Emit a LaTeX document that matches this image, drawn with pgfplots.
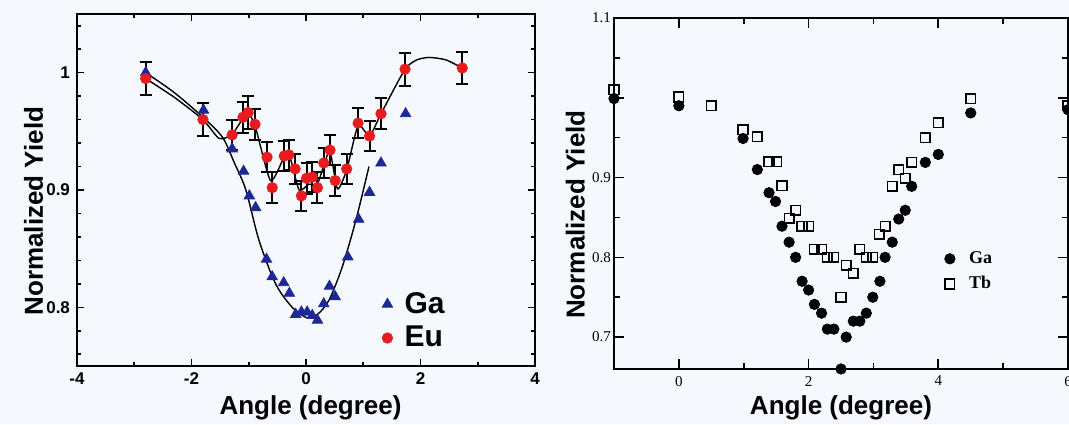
\documentclass[border=0pt]{standalone}
\usepackage{pgfplots}
\pgfplotsset{compat=1.18}
\usepackage{pgfplotstable}
\usepackage{fontspec}
\setmainfont{Liberation Sans}
\newfontfamily\serif{Liberation Serif}
\definecolor{bgcol}{RGB}{245,248,252}
\definecolor{gablue}{RGB}{28,40,150}
\definecolor{eured}{RGB}{232,28,30}

\pgfplotstableread{
x y
-2.80 1.000
-1.79 0.968
-1.29 0.935
-1.09 0.916
-0.99 0.895
-0.88 0.885
-0.69 0.841
-0.59 0.826
-0.39 0.821
-0.29 0.812
-0.18 0.794
-0.08 0.796
0.02 0.796
0.11 0.793
0.20 0.789
0.31 0.803
0.41 0.818
0.51 0.809
0.73 0.843
0.92 0.875
1.11 0.898
1.31 0.923
1.74 0.965
}\gaL

\pgfplotstableread{
x y e
-2.80 0.995 0.014
-1.80 0.960 0.014
-1.29 0.947 0.013
-1.10 0.962 0.013
-1.01 0.966 0.014
-0.89 0.956 0.013
-0.68 0.928 0.013
-0.59 0.902 0.013
-0.38 0.929 0.013
-0.30 0.930 0.013
-0.19 0.918 0.013
-0.08 0.895 0.013
0.01 0.910 0.013
0.11 0.911 0.013
0.20 0.902 0.013
0.31 0.923 0.013
0.42 0.934 0.013
0.51 0.908 0.013
0.71 0.918 0.013
0.91 0.957 0.013
1.11 0.946 0.013
1.31 0.965 0.013
1.73 1.003 0.014
2.73 1.004 0.014
}\euL

\pgfplotstableread{
x y
-2.80 1.000
-2.30 0.983
-1.80 0.962
-1.46 0.945
-1.25 0.923
-1.05 0.900
-0.82 0.857
-0.53 0.820
-0.24 0.800
0.02 0.791
0.20 0.794
0.40 0.806
0.63 0.834
0.87 0.874
1.10 0.920
}\gaFit

\pgfplotstableread{
x y
-2.80 0.995
-2.30 0.979
-1.80 0.960
-1.52 0.944
-1.30 0.947
-1.10 0.961
-1.01 0.965
-0.89 0.955
-0.62 0.908
-0.38 0.928
-0.28 0.928
-0.12 0.900
0.05 0.905
0.20 0.905
0.41 0.933
0.55 0.901
0.71 0.917
0.91 0.955
1.11 0.946
1.31 0.965
1.73 1.003
1.94 1.011
2.15 1.013
2.44 1.011
2.73 1.004
}\euFit

\pgfplotstableread{
x y
-1.00 0.999
0.00 0.990
0.99 0.949
1.21 0.910
1.39 0.881
1.49 0.870
1.59 0.839
1.70 0.819
1.80 0.800
1.90 0.770
2.00 0.759
2.09 0.741
2.20 0.730
2.29 0.710
2.39 0.710
2.50 0.660
2.58 0.700
2.69 0.720
2.79 0.720
2.89 0.730
2.99 0.750
3.10 0.770
3.18 0.800
3.29 0.819
3.39 0.848
3.49 0.859
3.59 0.889
3.80 0.919
4.00 0.929
4.50 0.981
6.00 0.985
}\gaR

\pgfplotstableread{
x y
-1.00 1.010
0.00 1.001
0.50 0.990
0.99 0.960
1.21 0.951
1.39 0.920
1.51 0.920
1.59 0.890
1.70 0.849
1.80 0.859
1.90 0.839
2.00 0.839
2.09 0.810
2.20 0.810
2.29 0.800
2.39 0.800
2.50 0.750
2.58 0.790
2.69 0.780
2.79 0.810
2.89 0.800
2.99 0.800
3.09 0.829
3.18 0.839
3.29 0.889
3.39 0.910
3.49 0.899
3.59 0.919
3.80 0.950
4.00 0.969
4.50 0.999
6.00 0.990
}\tbR

\begin{document}
\begin{tikzpicture}
\fill[bgcol] (0,0) rectangle (534.5pt,212pt);

% ---------------- left panel ----------------
\begin{axis}[
  at={(38.5pt,29pt)}, anchor=south west, scale only axis,
  width=229pt, height=176pt,
  xmin=-4, xmax=4, ymin=0.75, ymax=1.05,
  xtick={-4,-2,0,2,4}, xticklabels={-4,-2,0,2,4},
  minor xtick={-3,-1,1,3},
  ytick={0.8,0.9,1}, yticklabels={0.8,0.9,1},
  minor ytick={0.76,0.78,0.82,0.84,0.86,0.88,0.92,0.94,0.96,0.98,1.02,1.04},
  tick align=inside, major tick length=3.5pt, minor tick length=2.2pt,
  axis line style={line width=1pt},
  every tick/.style={black, line width=0.8pt},
  tick label style={font=\fontsize{8.5}{10}\selectfont\bfseries},
  xlabel={Angle (degree)}, ylabel={Normalized Yield},
  label style={font=\fontsize{13}{15}\selectfont\bfseries},
  xlabel style={at={(axis description cs:0.51,-0.12)}, anchor=center},
  ylabel style={at={(axis description cs:-0.095,0.44)}, anchor=center},
  legend style={at={(axis cs:1.22,0.820)}, anchor=north west, draw=none, fill=none,
    font=\fontsize{15}{16}\selectfont\bfseries, row sep=1pt,
    /tikz/every odd column/.append style={column sep=4pt}},
  legend cell align=left,
]
\addplot[black, line width=0.7pt, smooth, tension=0.5, forget plot] table[x=x,y=y]{\gaFit};
\addplot[black, line width=0.7pt, smooth, tension=0.35, forget plot] table[x=x,y=y]{\euFit};
\addplot[only marks, mark=triangle*, mark size=3pt, color=gablue] table[x=x,y=y]{\gaL};
\addlegendentry{Ga}
\addplot[only marks, mark=*, mark size=2.6pt, color=eured,
  error bars/.cd, y dir=both, y explicit,
  error bar style={black, line width=1pt},
  error mark options={rotate=90, black, line width=1pt, mark size=3pt}]
  table[x=x,y=y,y error=e]{\euL};
\addlegendentry{Eu}
\end{axis}

% ---------------- right panel ----------------
\begin{axis}[
  at={(307pt,27.5pt)}, anchor=south west, scale only axis,
  width=227pt, height=175.5pt,
  xmin=-1, xmax=6, ymin=0.66, ymax=1.1,
  xtick={0,2,4,6}, xticklabels={0,2,4,6},
  minor xtick={1,3,5},
  ytick={0.7,0.8,0.9,1.0,1.1}, yticklabels={0.7,0.8,0.9,,1.1},
  minor ytick={0.75,0.85,0.95,1.05},
  tick align=inside, major tick length=5pt, minor tick length=3pt,
  axis line style={line width=1.1pt},
  every tick/.style={black, line width=0.8pt},
  tick label style={font=\serif\fontsize{7.5}{9}\selectfont},
  yticklabel style={xshift=2pt},
  xlabel={Angle (degree)}, ylabel={Normalized Yield},
  label style={font=\fontsize{13}{15}\selectfont\bfseries},
  xlabel style={at={(axis description cs:0.5,-0.11)}, anchor=center},
  ylabel style={at={(axis description cs:-0.085,0.44)}, anchor=center},
  legend style={at={(axis cs:4.0,0.818)}, anchor=north west, draw=none, fill=none,
    font=\serif\fontsize{9}{10}\selectfont\bfseries, row sep=1pt,
    /tikz/every odd column/.append style={column sep=5pt}},
  legend cell align=left,
]
\addplot[only marks, mark=*, mark size=2.6pt, color=black] table[x=x,y=y]{\gaR};
\addlegendentry{Ga}
\addplot[only marks, mark=square, mark size=2.4pt, color=black, line width=0.8pt] table[x=x,y=y]{\tbR};
\addlegendentry{Tb}
\end{axis}

\pgfresetboundingbox
\path[use as bounding box] (0,0) rectangle (534.5pt,212pt);
\end{tikzpicture}
\end{document}
